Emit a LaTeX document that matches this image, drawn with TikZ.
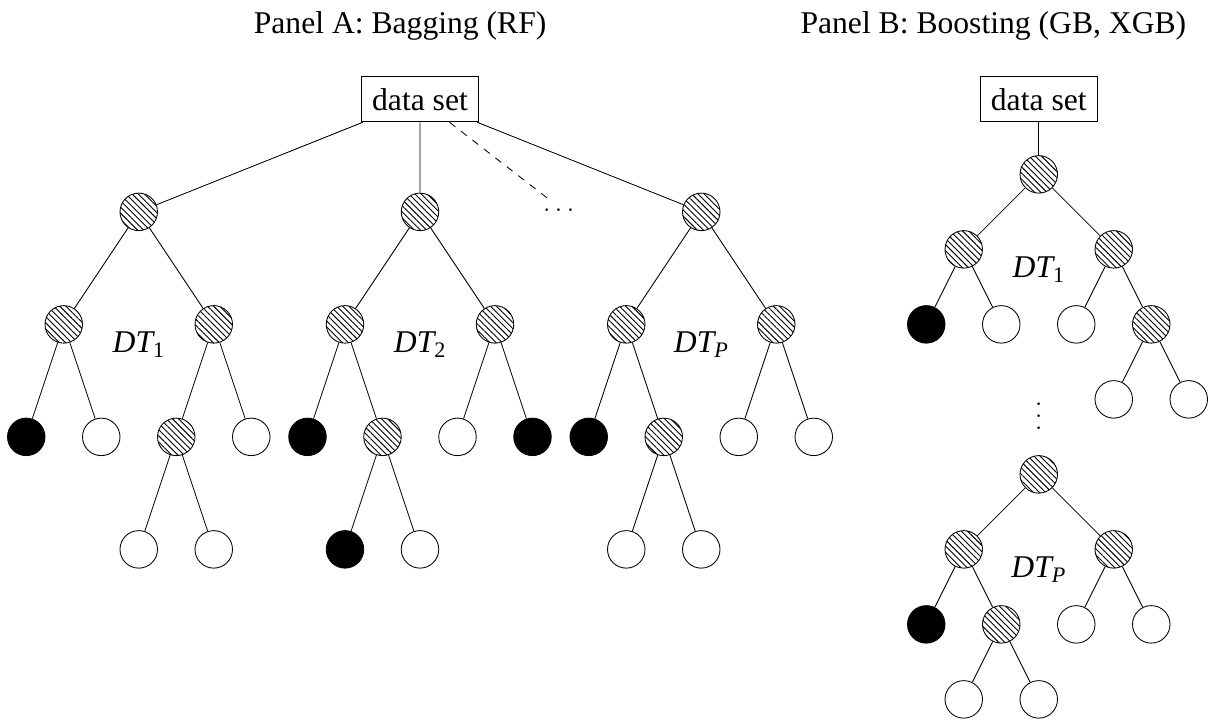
\documentclass[tikz,border=0pt]{standalone}
\usepackage{fontspec}
\setmainfont{Liberation Serif}
\usepackage{tikz}
\usetikzlibrary{positioning,patterns.meta}
\tikzset{
  split node/.style={
    circle,
    draw,
    pattern={Lines[angle=-45,distance=3.3pt,line width=0.7pt]},
    minimum size=1cm,
    inner sep=0pt
  },
  leaf node/.style={
    circle,
    draw,
    fill=white,
    minimum size=1cm,
    inner sep=0pt
  },
  class node/.style={
    leaf node,
    fill=black
  },
  data box/.style={
    draw,
    rectangle,
    minimum width=3.12cm,
    minimum height=1.2cm,
    inner sep=0pt
  },
  tree dots/.style={
    inner sep=0pt,
    text height=1.5ex,
    text depth=0pt,
    font=\fontsize{20}{24}\selectfont
  },
  panel title/.style={
    anchor=base
  }
}

\begin{document}
\begin{tikzpicture}[line width=0.65pt, font=\fontsize{24}{28}\selectfont]
  \useasboundingbox (0,0) rectangle (32.24,-19.2);

  % Panel A: bagging, P trees grown side by side
  \node[panel title] (titleA) at (10.67,-0.9) {Panel A: Bagging (RF)};
  \node[data box] (dsA) at (11.2,-2.65) {data set};

  % first tree
  \node[split node] (a1) at (3.7,-5.65) {};
  \node[split node] (a1l) at (1.7,-8.65) {};
  \node[split node] (a1r) at (5.7,-8.65) {};
  \node[class node] (a1ll) at (0.7,-11.65) {};
  \node[leaf node] (a1lr) at (2.7,-11.65) {};
  \node[split node] (a1rl) at (4.7,-11.65) {};
  \node[leaf node] (a1rr) at (6.7,-11.65) {};
  \node[leaf node] (a1rll) at (3.7,-14.65) {};
  \node[leaf node] (a1rlr) at (5.7,-14.65) {};
  \node (lblA1) at (3.7,-9.18) {$\mathit{DT}_{\mathrm{1}}$};

  % second tree
  \node[split node] (a2) at (11.2,-5.65) {};
  \node[split node] (a2l) at (9.2,-8.65) {};
  \node[split node] (a2r) at (13.2,-8.65) {};
  \node[class node] (a2ll) at (8.2,-11.65) {};
  \node[split node] (a2lr) at (10.2,-11.65) {};
  \node[leaf node] (a2rl) at (12.2,-11.65) {};
  \node[class node] (a2rr) at (14.2,-11.65) {};
  \node[class node] (a2lrl) at (9.2,-14.65) {};
  \node[leaf node] (a2lrr) at (11.2,-14.65) {};
  \node (lblA2) at (11.2,-9.18) {$\mathit{DT}_{\mathrm{2}}$};

  \node[tree dots, anchor=base] (adots) at (14.9,-5.64) {$\dots$};

  % last tree
  \node[split node] (ap) at (18.7,-5.65) {};
  \node[split node] (apl) at (16.7,-8.65) {};
  \node[split node] (apr) at (20.7,-8.65) {};
  \node[class node] (apll) at (15.7,-11.65) {};
  \node[split node] (aplr) at (17.7,-11.65) {};
  \node[leaf node] (aprl) at (19.7,-11.65) {};
  \node[leaf node] (aprr) at (21.7,-11.65) {};
  \node[leaf node] (aplrl) at (16.7,-14.65) {};
  \node[leaf node] (aplrr) at (18.7,-14.65) {};
  \node (lblAP) at (18.7,-9.18) {$\mathit{DT}_{\mathit{P}}$};

  \draw (dsA) -- (a1) (dsA) -- (a2) (dsA) -- (ap);
  \draw[dash pattern=on 5.5pt off 5.5pt] (dsA) -- (adots);
  \draw (a1) -- (a1l) (a1) -- (a1r);
  \draw (a1l) -- (a1ll) (a1l) -- (a1lr);
  \draw (a1r) -- (a1rl) (a1r) -- (a1rr);
  \draw (a1rl) -- (a1rll) (a1rl) -- (a1rlr);
  \draw (a2) -- (a2l) (a2) -- (a2r);
  \draw (a2l) -- (a2ll) (a2l) -- (a2lr);
  \draw (a2r) -- (a2rl) (a2r) -- (a2rr);
  \draw (a2lr) -- (a2lrl) (a2lr) -- (a2lrr);
  \draw (ap) -- (apl) (ap) -- (apr);
  \draw (apl) -- (apll) (apl) -- (aplr);
  \draw (apr) -- (aprl) (apr) -- (aprr);
  \draw (aplr) -- (aplrl) (aplr) -- (aplrr);

  % Panel B: boosting, trees grown one after another
  \node[panel title] (titleB) at (26.49,-0.9) {Panel B: Boosting (GB, XGB)};
  \node[data box] (dsB) at (27.7,-2.65) {data set};

  \node[split node] (b1) at (27.7,-4.65) {};
  \node[split node] (b1l) at (25.7,-6.65) {};
  \node[split node] (b1r) at (29.7,-6.65) {};
  \node[class node] (b1ll) at (24.7,-8.65) {};
  \node[leaf node] (b1lr) at (26.7,-8.65) {};
  \node[leaf node] (b1rl) at (28.7,-8.65) {};
  \node[split node] (b1rr) at (30.7,-8.65) {};
  \node[leaf node] (b1rrl) at (29.7,-10.65) {};
  \node[leaf node] (b1rrr) at (31.7,-10.65) {};
  \node (lblB1) at (27.7,-7.2) {$\mathit{DT}_{\mathrm{1}}$};

  % vertical dots: the row of dots turned upright
  \node[rotate=-90, font=\fontsize{21}{25}\selectfont] (bdots) at (27.7,-11.1) {$\dots$};

  \node[split node] (bp) at (27.7,-12.65) {};
  \node[split node] (bpl) at (25.7,-14.65) {};
  \node[split node] (bpr) at (29.7,-14.65) {};
  \node[class node] (bpll) at (24.7,-16.65) {};
  \node[split node] (bplr) at (26.7,-16.65) {};
  \node[leaf node] (bprl) at (28.7,-16.65) {};
  \node[leaf node] (bprr) at (30.7,-16.65) {};
  \node[leaf node] (bplrl) at (25.7,-18.65) {};
  \node[leaf node] (bplrr) at (27.7,-18.65) {};
  \node (lblBP) at (27.7,-15.2) {$\mathit{DT}_{\mathit{P}}$};

  \draw (dsB) -- (b1);
  \draw (b1) -- (b1l) (b1) -- (b1r);
  \draw (b1l) -- (b1ll) (b1l) -- (b1lr);
  \draw (b1r) -- (b1rl) (b1r) -- (b1rr);
  \draw (b1rr) -- (b1rrl) (b1rr) -- (b1rrr);
  \draw (bp) -- (bpl) (bp) -- (bpr);
  \draw (bpl) -- (bpll) (bpl) -- (bplr);
  \draw (bpr) -- (bprl) (bpr) -- (bprr);
  \draw (bplr) -- (bplrl) (bplr) -- (bplrr);
\end{tikzpicture}
\end{document}
